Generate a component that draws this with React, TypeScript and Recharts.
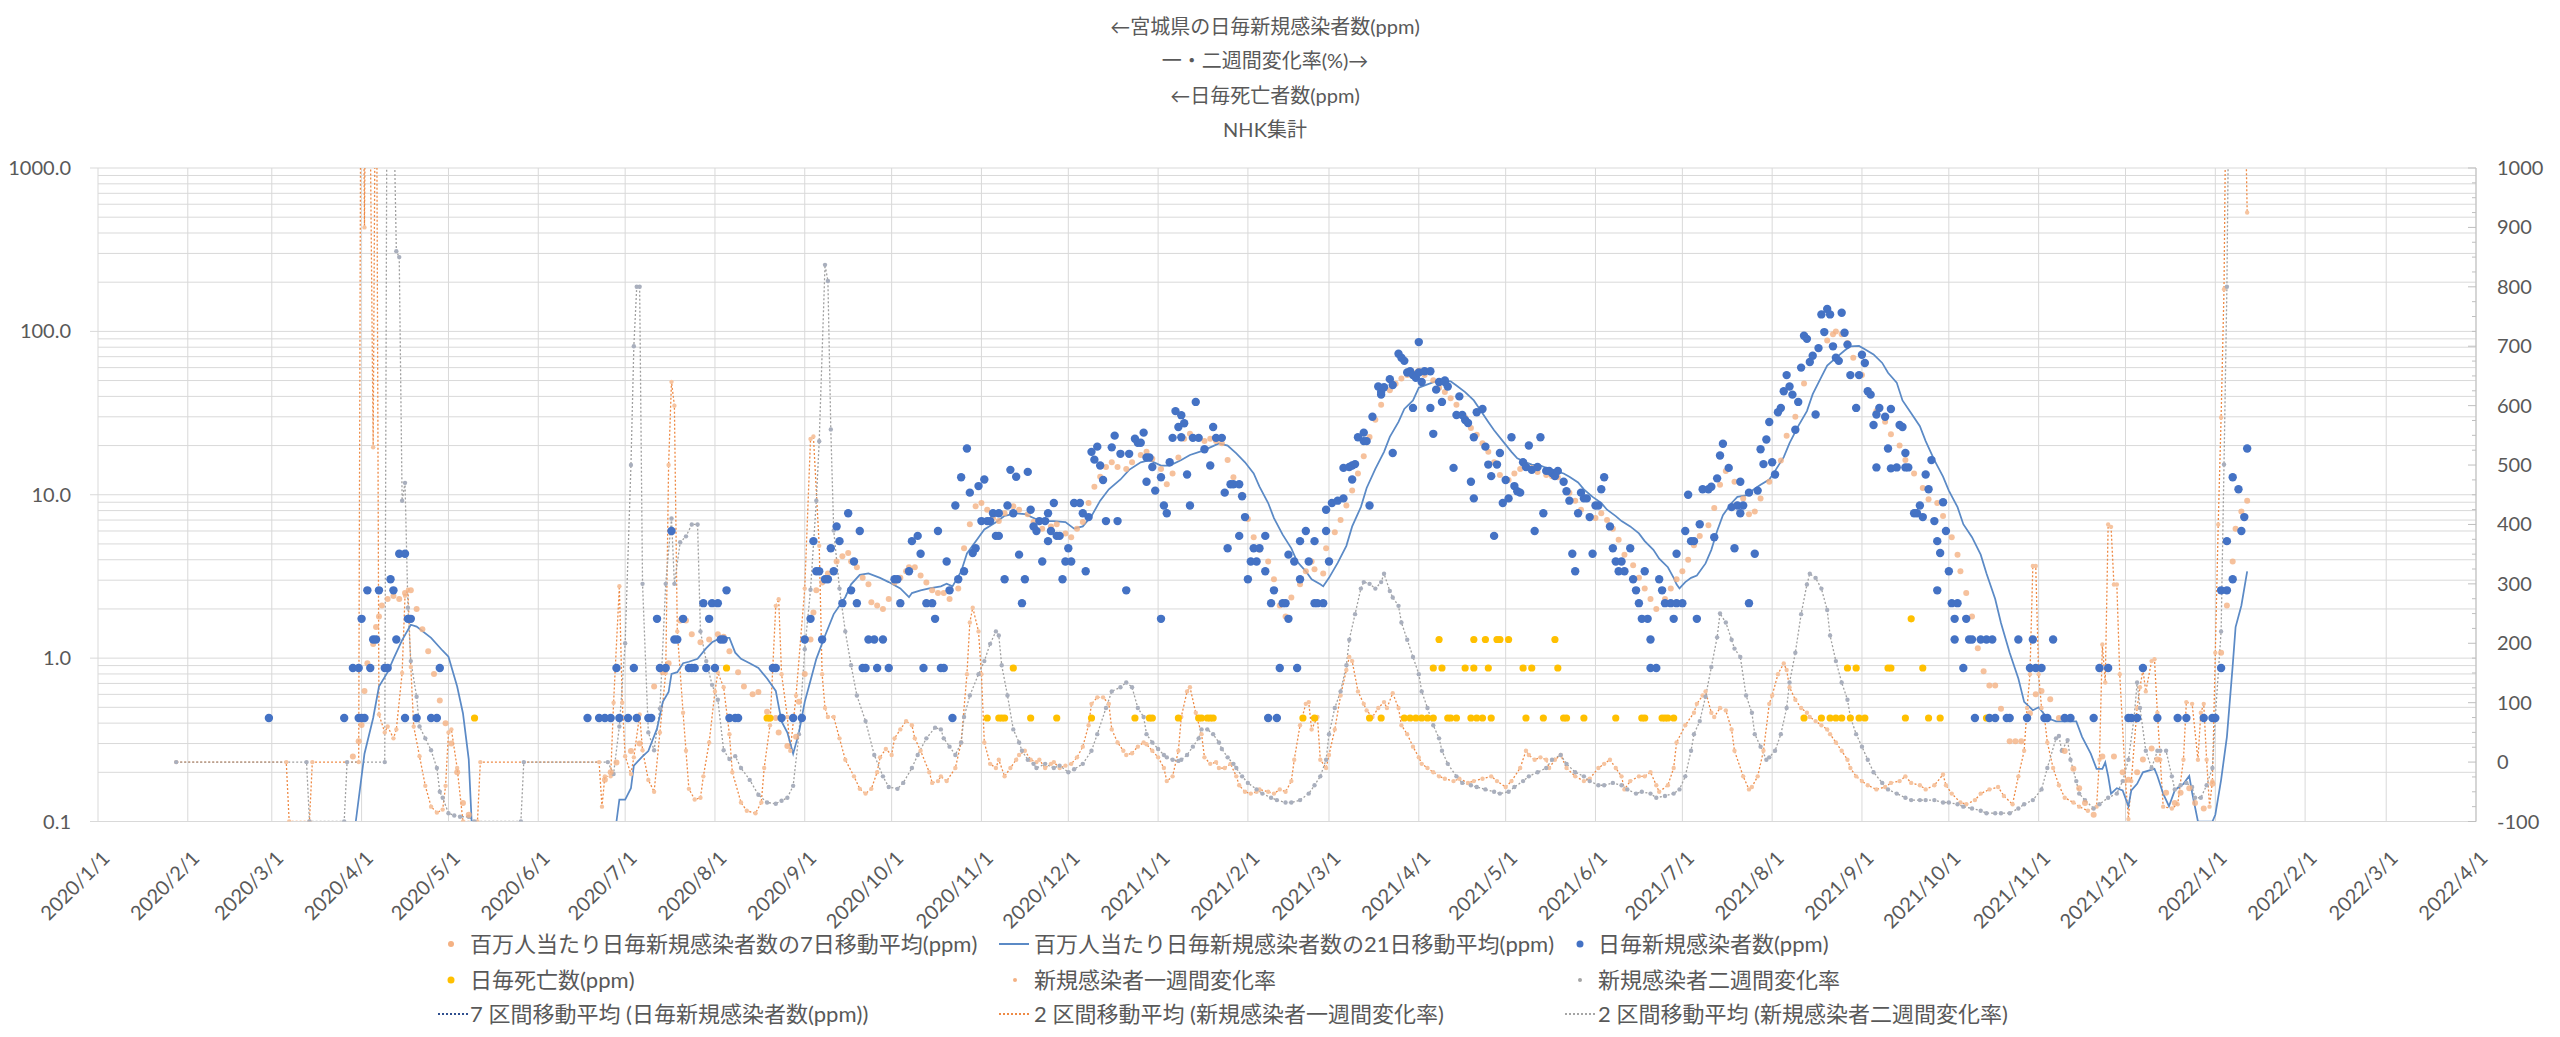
import React from 'react';
import { ComposedChart, Line, Scatter, XAxis, YAxis, CartesianGrid } from 'recharts';

const FONT = '"Lato", "Noto Sans CJK JP", sans-serif';
const TEXT = '#595959';

const titleLines = ['←宮城県の日毎新規感染者数(ppm)', '一・二週間変化率(%)→', '←日毎死亡者数(ppm)', 'NHK集計'];

const monthLabels = [
  '2020/1/1', '2020/2/1', '2020/3/1', '2020/4/1', '2020/5/1', '2020/6/1', '2020/7/1', '2020/8/1', '2020/9/1',
  '2020/10/1', '2020/11/1', '2020/12/1', '2021/1/1', '2021/2/1', '2021/3/1', '2021/4/1', '2021/5/1', '2021/6/1',
  '2021/7/1', '2021/8/1', '2021/9/1', '2021/10/1', '2021/11/1', '2021/12/1', '2022/1/1', '2022/2/1', '2022/3/1', '2022/4/1',
];
const leftMajor = [0.1, 1, 10, 100, 1000];

const seriesNames = [
  '百万人当たり日毎新規感染者数の7日移動平均(ppm)',
  '百万人当たり日毎新規感染者数の21日移動平均(ppm)',
  '日毎新規感染者数(ppm)',
  '日毎死亡数(ppm)',
  '新規感染者一週間変化率',
  '新規感染者二週間変化率',
  '7 区間移動平均 (日毎新規感染者数(ppm))',
  '2 区間移動平均 (新規感染者一週間変化率)',
  '2 区間移動平均 (新規感染者二週間変化率)',
];

// [days since 2020/1/1, value]
const dailyCases: [number, number][] = [
  [59,.43],[85,.43],[88,.87],[90,.87],[90,.43],[91,.43],[91,1.74],[92,.43],[93,2.6],[94,.87],[95,1.3],[96,1.3],[97,2.6],[99,.87],[100,.87],[101,3.04],[102,2.6],[103,1.3],[104,4.35],[106,.43],[106,4.35],[107,1.74],[108,1.74],[110,.43],[115,.43],[117,.43],[118,.87],
  [169,.43],[173,.43],[175,.43],[177,.43],[179,.87],[180,.43],[183,.43],[185,.87],[186,.43],[190,.43],[191,.43],[193,1.74],[194,.87],[196,.87],[198,6],[199,1.3],[200,1.3],[202,1.74],[204,.87],[205,.87],[206,.87],[209,2.17],[210,.87],[211,1.74],[212,2.17],[213,.87],[214,2.17],[215,1.3],[216,1.3],[217,2.6],[218,.43],[220,.43],[221,.43],[233,.87],[234,.87],[236,.43],[240,.43],[243,.43],[244,1.3],[246,1.74],[247,5.2],[248,3.4],[249,3.4],[250,1.3],[251,3.04],[252,3.04],[253,4.7],[254,3.4],[255,6.4],[256,5.2],[257,2.17],[259,7.7],[260,2.6],[261,3.9],[262,2.17],[263,6],[264,.87],[265,.87],[266,1.3],[268,1.3],[269,.87],[271,1.3],[273,.87],[275,3.04],[276,3.04],[277,2.17],[280,3.4],[281,5.2],[283,5.6],[284,4.35],[285,.87],[286,2.17],[288,2.17],[289,1.74],[290,6],[291,.87],[292,.87],[293,3.9],[294,2.6],[295,.43],[296,8.6],[297,3.04],[298,12.8],[299,3.4],[300,19.2],
  [301,10.3],[302,4.4],[303,4.7],[304,11.3],[305,6.9],[306,12.4],[307,6.9],[308,6.9],[309,7.7],[310,5.6],[311,7.7],[311,5.6],[313,3.04],[314,8.6],[315,14.2],[316,7.7],[317,12.9],[318,4.3],[319,2.17],[320,3.04],[321,13.8],[322,8.1],[323,6.4],[324,6],[325,6.9],[326,3.9],[327,6.9],[328,5.2],[328,7.7],[329,6],[330,8.9],[331,5.6],[332,5.6],[333,3.04],[334,3.9],[335,4.7],[336,3.9],[337,8.9],[339,8.9],[340,7.7],[341,3.4],[342,7.3],[343,18.3],[344,16.4],[345,19.7],[346,15.1],[347,12.3],[348,6.9],[350,19.5],[351,23],[352,6.9],[353,17.8],[355,2.6],[356,17.8],[358,22],[359,20.8],[360,20.8],[361,24],[362,16.9],[362,12],[363,16.9],[364,14.8],[365,10.6],[367,12.8],[367,1.74],[368,8.6],[369,7.7],[370,15.8],[371,22.3],[372,32.5],[373,26],[374,30.7],[374,22.5],[375,27.4],[376,13.3],[377,8.6],[378,22.3],[379,37],[380,22.3],[382,19],[384,15.1],[385,26],[386,22.3],[388,22.3],[389,10.3],[390,4.7],[391,11.6],[392,11.6],[394,11.6],[394,5.6],[395,9.8],[396,7.3],[397,3.04],[398,3.9],[399,4.7],[400,3.9],
  [401,4.7],[403,5.6],[403,3.4],[404,.43],[405,2.17],[406,2.6],[407,.43],[408,.87],[409,2.17],[410,2.17],[411,4.3],[411,1.74],[413,3.9],[414,.87],[415,3.04],[415,5.2],[417,6],[418,3.9],[420,5.2],[420,2.17],[421,2.17],[423,2.17],[424,8.1],[424,6],[425,3.9],[426,8.9],[428,9.2],[430,9.5],[430,14.6],[432,14.8],[433,12.4],[433,15.1],[434,15.4],[435,22.5],[437,21.3],[437,24],[438,21.3],[439,8.6],[440,30],[442,46],[443,41],[443,42.5],[444,45.5],[446,51],[447,18],[447,47],[449,73],[450,69],[451,66],[452,56],[453,57],[454,54],[454,34],[455,52],[456,86],[456,56],[457,49],[458,57],[460,57],[460,34],[461,23.6],[462,44],[463,49],[464,37],[465,50],[465,49],[466,46],[468,14.6],[469,30.8],[470,40],[471,30.8],[472,28.7],[473,27.5],[474,12],[475,9.5],[475,22.5],[476,32],[478,33.5],[479,19.7],[480,15.3],[481,13],[482,5.6],[483,15.3],[484,18],[485,8.9],[486,12.3],[487,9.5],[488,22.5],[489,11.3],[490,10.5],[491,10.3],[492,15.8],[493,14.8],[494,20],[495,14.2],[496,6],[497,14.8],[498,22.5],[499,7.7],[500,14],
  [501,14],[502,13.6],[503,13],[504,14],[506,12],[507,10.5],[508,9.2],[509,4.35],[510,3.4],[511,7.7],[512,10.3],[513,9.5],[514,9.5],[515,7.3],[516,4.35],[517,8.6],[518,8.6],[519,10.8],[520,12.8],[522,6.4],[523,4.7],[524,3.9],[525,3.4],[526,3.9],[527,3.4],[529,4.7],[530,3.04],[531,2.6],[532,2.17],[533,1.74],[534,3.4],[535,1.74],[536,1.3],[536,.87],[538,.87],[539,3.04],[540,2.6],[541,2.17],[543,2.17],[544,1.74],[545,4.35],[545,2.17],[547,2.17],[548,6],[549,10],[550,5.2],[551,5.2],[552,1.74],[553,6.6],[554,10.8],[556,10.8],[557,11.2],[558,5.5],[559,12.6],[560,17.4],[561,20.5],[563,14.6],[564,8.4],[565,4.7],[566,8.6],[567,7.7],[567,12],[568,8.6],[570,2.17],[570,10.3],[572,4.35],[573,10.6],[574,19],[575,15.4],[576,21.8],[577,27.9],[578,15.8],[579,13.3],[580,32],[581,34],[582,43],[583,54],[584,46],[585,41],[586,25],[587,37],[588,60],[589,94],[590,90],[591,65],[592,71],[593,31],[594,79],[595,127],[596,99],[597,137],[598,127],[599,81],[600,69],
  [601,66],[602,130],[603,98],[604,83],[605,54],[607,34],[608,54],[609,72],[610,64],[611,43],[612,41],[613,26.7],[614,14.7],[614,31],[615,34],[617,30],[618,19.2],[619,33.5],[619,14.5],[621,14.7],[622,26.7],[623,26],[624,18],[624,14.7],[625,14.7],[627,7.7],[628,7.7],[629,8.6],[630,7.3],[631,13.3],[632,10.8],[633,16.3],[634,6.9],[635,5.2],[635,2.6],[636,4.4],[637,9],[638,6],[639,3.4],[640,2.17],[641,1.74],[641,1.3],[642,2.17],[644,.87],[645,1.74],[646,1.3],[647,1.3],[648,.43],[650,1.3],[652,1.3],[653,.43],[654,1.3],[655,.43],[659,.43],[660,.43],[663,1.3],[666,.43],[667,.87],[668,1.3],[669,.87],[671,.87],[672,.43],[673,.43],[675,1.3],[679,.43],[681,.43],[689,.43],[691,.87],[694,.87],[701,.43],[702,.43],[704,.43],[706,.87],[711,.43],[718,.43],[721,.43],[727,.43],[730,.43],[731,.43],[733,.87],[733,2.6],[735,2.6],[735,5.2],[737,3.04],[737,12.8],[739,10.8],[740,6],[741,7.3],[742,19.2],
];

const dailyDeaths: [number, number][] = [
  [130,.43],[217,.87],[231,.43],[232,.43],[307,.43],[311,.43],[312,.43],[313,.43],[316,.87],[322,.43],[331,.43],[343,.43],[358,.43],[363,.43],[364,.43],[373,.43],[380,.43],[381,.43],[383,.43],[384,.43],[385,.43],[404,.43],[416,.43],[420,.43],[439,.43],[443,.43],[451,.43],[453,.43],[455,.43],[457,.43],[459,.43],[461,.43],[461,.87],[463,1.3],[464,.87],[466,.43],[467,.43],[469,.43],[472,.87],[474,.43],[475,1.3],[475,.87],[476,.43],[478,.43],[479,1.3],[480,.87],[481,.43],[483,1.3],[484,1.3],[487,1.3],[492,.87],[493,.43],[495,.87],[499,.43],[503,1.3],[504,.87],[506,.43],[507,.43],[513,.43],[524,.43],[533,.43],[534,.43],[540,.43],[541,.43],[542,.43],[544,.43],
  [589,.43],[595,.43],[598,.43],[600,.43],[602,.43],[604,.87],[605,.43],[607,.87],[608,.43],[610,.43],[618,.87],[619,.87],[624,.43],[626,1.74],[630,.87],[632,.43],[636,.43],[652,.43],
];

const avg7: [number, number][] = [
  [88,.25],[90,.31],[91,.39],[92,.63],[93,.93],[95,1.22],[96,1.55],[97,1.8],[98,2.1],[100,2.3],[102,2.4],[104,2.3],[106,2.5],[108,2.6],[110,2],[112,1.5],[114,1.1],[116,.8],[118,.55],[120,.4],[122,.3],[124,.2],[126,.13],[128,.11],
  [175,.18],[177,.2],[179,.23],[184,.27],[187,.3],[190,.43],[192,.67],[195,.82],[197,.93],[199,1.3],[201,1.7],[203,1.7],[205,1.4],[208,1.25],[211,1.3],[214,1.4],[216,1.35],[218,1.1],[221,.82],[223,.67],[226,.6],[228,.62],[231,.47],[234,.43],[235,.35],[238,.29],[241,.33],[242,.54],[244,.8],[246,1.3],[247,1.9],[248,2.6],[250,2.9],[252,3.3],[254,3.4],[255,3.9],[257,4.2],[259,4.4],[260,3.9],[262,3.6],[264,3.1],[266,2.83],[267,2.2],[269,2.1],[271,2],[273,2.3],[275,2.9],[277,3.1],[279,3.4],[280,3.6],[282,3.6],[284,3.2],[286,2.9],[288,2.6],[290,2.5],[292,2.5],[294,2.3],[297,2.67],[299,4.7],
  [301,6.6],[303,8.5],[305,8.9],[307,8.1],[309,7.2],[311,6.9],[313,7.7],[316,8.5],[318,8.1],[321,7.6],[323,6.8],[326,6.2],[329,6.4],[331,6.6],[334,5.8],[336,5.5],[338,6.2],[340,6.8],[342,8.9],[344,11.2],[346,12.9],[348,14.8],[350,15.8],[352,14.8],[355,14.4],[357,15.8],[360,17.5],[362,18.3],[364,16.6],[367,14.4],[369,11.6],[371,13.5],[373,16.9],[375,22],[377,23.6],[380,22.6],[382,21.3],[384,22],[386,21.3],[388,20.7],[390,16.3],[392,12.8],[395,10],[397,7.1],[399,5.5],
  [401,4.6],[404,3.9],[406,3.04],[408,2.1],[410,1.8],[412,2.35],[415,2.83],[417,3.4],[419,3.9],[420,3.5],[423,3.3],[424,4.7],[427,5.9],[429,7],[431,8.6],[433,10.6],[435,13.5],[437,17.2],[439,22.6],[441,28.8],[443,35.5],[446,43.6],[448,47.8],[450,51.5],[452,54],[454,55.6],[456,57.5],[458,54],[461,50.3],[463,45.2],[465,42.5],[467,38.9],[469,35.5],[472,29.7],[474,25.6],[476,23.3],[478,20.7],[480,18.3],[482,15.8],[484,13.2],[487,12.3],[489,13.5],[491,14.4],[493,15.1],[495,14.6],[497,13.8],[500,13.2],
  [502,13],[504,12.8],[506,11.9],[508,10.3],[510,9.2],[512,8.1],[515,7.4],[517,7.2],[519,7.7],[521,7],[523,6.2],[525,5.3],[527,4.3],[530,3.7],[532,3.1],[534,2.67],[536,2.3],[538,2],[541,2.3],[543,2.67],[545,3.04],[547,3.4],[549,4],[551,4.9],[553,5.6],[556,6.5],[558,8.3],[560,11.5],[562,14],[565,12],[568,9.5],[570,7.6],[572,7.9],[574,9.5],[577,12],[581,16.2],[583,23],[586,30],[589,48],[591,65],[594,78],[597,88],[599,96],[600,100],
  [602,96],[604,85],[606,69],[609,54],[611,43],[614,32.5],[617,28],[619,23.5],[622,20],[624,16.3],[627,13.5],[630,11],[632,9.4],[635,8.9],[637,7.4],[640,5.5],[642,4.3],[643,3.4],[645,2.5],[647,1.8],[649,1.15],[651,.83],[653,.68],[655,.68],[657,.49],[660,.31],[662,.31],[664,.31],[667,.46],[669,.6],[671,.63],[674,.56],[677,.43],[679,.27],[682,.21],[684,.16],[686,.13],[689,.11],[692,.25],[696,.25],[699,.2],[701,.18],[704,.2],[706,.24],[709,.28],[711,.24],[714,.15],[717,.13],[719,.15],[722,.16],[724,.13],[727,.12],[730,.17],[731,.43],[733,1.08],[735,2.1],[737,3.9],[738,6.2],[740,7.9],[742,9.2],
];

const avg21: [number, number | null][] = [
  [89,.1],[92,.26],[95,.43],[97,.67],[100,.82],[102,.99],[105,1.29],[108,1.6],[110,1.56],[115,1.33],[119,1.11],[121,1.02],[124,.67],[126,.46],[128,.24],[129,.1],[150,null],
  [179,.1],[180,.136],[182,.136],[184,.16],[185,.22],[188,.25],[190,.27],[191,.3],[193,.37],[195,.54],[197,.62],[198,.8],[200,.82],[202,.93],[204,.95],[207,.99],[210,1.15],[212,1.25],[215,1.33],[218,1.33],[220,1.08],[222,.99],[225,.93],[228,.87],[231,.75],[234,.63],[236,.41],[238,.35],[240,.26],[242,.35],[244,.54],[246,.73],[248,.99],[251,1.37],[254,1.86],[258,2.36],[260,2.83],[263,3.23],[266,3.3],[270,3.1],[273,2.92],[277,2.67],[280,2.36],[281,2.5],[284,2.6],[287,2.67],[291,2.75],[293,2.85],[295,2.75],[298,3.39],
  [300,4.37],[303,5.17],[306,6.13],[310,6.78],[313,7.43],[317,7.7],[320,7.6],[324,7.08],[327,6.9],[330,6.9],[334,6.8],[337,6.2],[340,6.4],[343,7.4],[346,9.2],[349,10.8],[353,12.4],[356,14.2],[360,15.8],[363,16.3],[367,15.1],[370,15.1],[374,16.3],[377,17.5],[381,18.5],[384,19.5],[387,20.6],[390,20],[393,17.9],[396,15.8],[399,13.5],
  [401,11.2],[404,8.9],[406,7.2],[409,5.7],[412,4.7],[414,3.9],[417,3.4],[419,3.04],[422,2.83],[423,2.75],[425,3.1],[428,3.83],[431,4.87],[433,6.4],[436,8.4],[438,11],[441,14.4],[444,18.3],[446,22.6],[449,27.9],[451,33.5],[454,37.8],[456,45.2],[459,47.4],[462,49.5],[464,50.3],[467,49.5],[469,46.6],[472,42.5],[475,37.8],[477,33.5],[480,27.9],[482,24.8],[485,21.3],[488,18.3],[490,16.7],[493,15.8],[495,15.3],[498,15.1],
  [500,14.6],[503,14],[506,13.5],[508,12.9],[511,11.9],[513,10.8],[516,9.7],[519,8.9],[521,8.1],[524,7.4],[526,6.9],[529,6.4],[532,5.8],[534,5.2],[537,4.6],[539,4.06],[542,3.6],[544,3.1],[545,2.83],[546,2.67],[548,2.92],[550,3.1],[552,3.2],[555,3.8],[557,4.6],[559,6],[561,7.5],[564,8.9],[566,9.7],[569,9.9],[571,10.6],[574,11.5],[577,12.4],[579,14],[582,17],[584,20.7],[587,26.3],[590,32.5],[592,41.3],[595,52.6],[597,61.8],
  [600,68.9],[603,76.4],[605,81],[608,81.5],[610,77.8],[613,72.3],[616,64.1],[618,55.8],[621,48.6],[623,37.8],[626,31.5],[629,26.3],[631,21.3],[634,16.3],[637,12.9],[639,10.6],[642,8.4],[644,6.6],[647,5.5],[650,4.3],[652,3.3],[655,2.3],[657,1.64],[660,1.08],[663,.75],[665,.54],[668,.48],[670,.5],[673,.43],[676,.41],[680,.41],[683,.41],[685,.33],[688,.26],[690,.21],[692,.21],[693,.23],[694,.19],[695,.148],[697,.16],[699,.155],
  [701,.124],[702,.155],[704,.17],[706,.2],[710,.21],[711,.19],[713,.148],[715,.124],[717,.155],[720,.17],[722,.19],[723,.15],[725,.1],[730,.1],[731,.11],[733,.18],[735,.33],[737,.9],[738,1.55],[740,2.1],[742,3.4],
];

// 一週間変化率 (%)
const weekChange: [number, number][] = [
  [27,0],[65,0],[66,-100],[73,-100],[74,0],[90,0],[91,1600],[92,900],[93,1600],[95,530],[96,1400],[97,80],[99,50],[100,60],[102,40],[103,55],[105,150],[106,280],[107,290],[108,160],[109,60],[111,10],[113,-40],[115,-75],[117,-85],[119,-80],[120,-40],[121,50],[122,55],[124,-10],[126,-100],[131,-100],[132,0],
  [173,0],[174,-75],[175,-24],[177,-24],[178,100],[180,296],[181,100],[182,10],[184,-20],[185,8],[187,80],[188,20],[190,-30],[192,-50],[194,50],[196,150],[197,500],[198,640],[199,600],[200,220],[202,83],[203,19],[204,-45],[206,-63],[208,-60],[209,-24],[211,33],[213,119],[214,151],[216,126],[218,47],[219,-17],[222,-68],[224,-82],[227,-86],[229,-68],[230,-10],[232,62],[234,263],[235,274],[236,148],[238,76],[239,19],[241,112],[244,292],[246,544],[247,548],[249,364],[250,148],[251,91],[252,76],[254,76],[256,40],[258,4],[261,-24],[263,-45],[265,-53],[267,-45],[269,-17],[270,8],[272,22],[274,12],[275,40],[277,55],[279,69],[281,62],[282,40],[284,19],[287,-17],[288,-35],[290,-32],
  [291,-24],[293,-32],[296,-10],[298,33],[300,148],[301,235],[302,260],[304,220],[305,148],[306,33],[308,-3],[310,-10],[311,4],[313,-24],[315,-10],[317,4],[318,12],[320,19],[322,4],[324,0],[325,4],[327,-10],[329,-3],[330,0],[332,-10],[334,-6],[336,-3],[338,8],[340,26],[342,62],[343,98],[345,109],[347,109],[349,98],[350,55],[352,33],[354,19],[355,12],[357,15],[359,26],[361,33],[362,30],[364,19],[366,8],[368,-10],[369,-32],[371,-24],[373,19],[374,76],[376,119],[377,126],[379,83],[381,47],[382,8],[384,-3],[386,0],[387,-10],[389,-10],[391,-3],[393,-24],[394,-39],[396,-50],[398,-53],[400,-50],
  [401,-46],[404,-50],[406,-53],[408,-46],[410,-50],[412,-32],[413,4],[415,62],[417,98],[418,101],[419,55],[421,76],[422,4],[424,-10],[425,12],[427,55],[429,112],[431,155],[432,177],[433,170],[435,119],[437,98],[438,87],[440,76],[442,91],[444,101],[445,91],[447,116],[449,91],[450,62],[452,47],[454,26],[456,8],[457,-3],[459,-10],[461,-17],[463,-24],[465,-28],[468,-32],[470,-28],[473,-35],[475,-32],[478,-28],[481,-24],[483,-32],[486,-42],[488,-32],[491,-10],[493,19],[494,12],[496,4],[498,8],[500,4],
  [501,-10],[503,4],[505,12],[507,-10],[510,-24],[513,-32],[515,-28],[518,-10],[520,-3],[522,4],[524,-10],[526,-24],[527,-46],[529,-32],[532,-24],[534,-24],[536,-17],[538,-39],[539,-50],[542,-39],[544,-10],[545,33],[548,62],[551,83],[552,98],[554,112],[555,119],[557,83],[558,76],[560,91],[562,87],[564,55],[565,19],[568,-24],[570,-46],[571,-42],[573,-24],[575,19],[577,98],[578,112],[580,148],[582,166],[583,155],[584,126],[586,105],[588,91],[590,83],[591,76],[593,69],[595,62],[597,55],[598,47],[600,33],
  [602,19],[604,4],[605,-10],[607,-24],[609,-32],[611,-39],[614,-46],[617,-42],[619,-35],[622,-32],[624,-24],[626,-35],[629,-39],[631,-46],[634,-39],[637,-21],[638,-39],[640,-53],[643,-68],[645,-71],[648,-64],[650,-53],[653,-46],[656,-42],[658,-57],[661,-71],[663,-24],[665,19],[666,91],[667,148],[668,330],[669,330],[670,148],[671,91],[672,76],[673,33],[675,-10],[677,-39],[679,-60],[682,-68],[684,-75],[687,-82],[690,-75],[691,4],[692,198],[693,134],[694,400],[695,396],[696,299],[697,299],[698,148],[700,-32],
  [701,-96],[702,-32],[704,91],[705,126],[706,155],[707,119],[709,170],[710,173],[711,83],[712,4],[713,-75],[716,-78],[718,-71],[720,4],[721,101],[723,98],[725,4],[726,83],[727,98],[728,4],[729,-75],[730,-32],[731,184],[732,400],[733,580],[734,796],[735,1300],[738,1500],[741,1200],[742,925],
];

// 二週間変化率 (%)
const twoWeekChange: [number, number][] = [
  [27,0],[72,0],[73,-100],[85,-100],[86,0],[99,0],[100,1500],[101,1400],[103,860],[104,850],[105,440],[106,470],[107,260],[108,170],[110,110],[111,60],[113,40],[115,20],[117,-10],[118,-50],[119,-60],[121,-86],[123,-90],[125,-92],[128,-92],[130,-100],[146,-100],[147,0],
  [176,0],[178,-20],[180,60],[182,200],[184,500],[185,700],[186,800],[187,800],[188,300],[190,50],[192,20],[194,90],[196,300],[198,410],[199,300],[201,370],[203,380],[205,400],[207,400],[208,220],[210,170],[212,130],[214,105],[216,20],[218,5],[220,10],[222,-10],[225,-30],[228,-55],[231,-68],[234,-70],[236,-65],[238,-60],[240,-40],[242,47],[244,190],[246,290],[248,440],[249,540],[251,837],[252,810],[253,560],[254,390],[256,292],[258,220],[260,163],[262,112],[265,69],[268,12],[271,-24],[273,-42],[276,-45],[278,-35],[281,-10],[283,12],[286,40],[289,58],[291,55],[292,40],[294,26],[296,12],[298,33],[299,76],
  [301,112],[304,148],[306,170],[308,199],[310,220],[311,213],[312,163],[314,112],[316,55],[318,33],[319,19],[321,4],[323,-3],[324,-10],[327,-3],[330,-10],[332,-6],[335,-17],[337,-12],[340,-3],[343,19],[345,47],[348,91],[350,119],[353,126],[355,134],[357,126],[359,91],[361,76],[362,47],[364,33],[366,22],[368,12],[369,8],[371,4],[373,2],[374,4],[376,12],[378,26],[380,40],[381,55],[383,55],[385,47],[387,33],[388,22],[390,8],[392,-3],[393,-10],[395,-24],[397,-35],[400,-46],
  [402,-53],[405,-60],[407,-64],[410,-68],[412,-68],[415,-64],[418,-53],[420,-39],[422,-24],[424,4],[425,47],[427,91],[429,119],[431,163],[432,206],[434,249],[436,292],[437,303],[439,300],[441,292],[443,303],[444,317],[446,288],[447,277],[449,263],[450,235],[452,206],[454,177],[456,148],[457,119],[459,91],[461,62],[463,40],[464,19],[466,-3],[469,-24],[471,-35],[474,-39],[476,-42],[479,-46],[482,-50],[484,-53],[487,-50],[489,-42],[492,-32],[494,-24],[497,-17],[500,-10],
  [502,4],[505,12],[507,-3],[510,-17],[513,-24],[515,-32],[518,-39],[520,-39],[523,-35],[526,-39],[528,-46],[531,-53],[533,-50],[536,-53],[538,-60],[541,-57],[544,-53],[546,-46],[548,-24],[550,19],[551,47],[553,69],[555,110],[557,160],[559,210],[560,250],[562,235],[564,206],[565,191],[567,177],[569,112],[571,83],[572,47],[574,26],[576,4],[577,8],[579,19],[581,47],[583,91],[584,134],[586,184],[588,249],[590,299],[591,317],[593,310],[595,292],[597,256],[598,213],[600,170],
  [602,134],[604,105],[605,76],[607,47],[609,26],[611,4],[613,-17],[616,-35],[618,-46],[621,-53],[624,-60],[626,-64],[629,-64],[631,-64],[634,-64],[637,-68],[639,-68],[642,-71],[644,-75],[647,-78],[650,-82],[652,-86],[655,-86],[657,-86],[660,-86],[663,-78],[665,-71],[668,-64],[671,-46],[673,-10],[676,40],[677,44],[678,19],[680,37],[681,4],[683,-32],[684,-53],[686,-64],[689,-78],[691,-71],[694,-60],[697,-53],[699,-32],
  [701,4],[703,76],[704,134],[705,91],[707,19],[709,-10],[711,19],[712,19],[714,19],[716,-24],[717,-46],[719,-39],[721,-35],[723,-42],[724,-60],[726,-60],[728,-39],[730,-10],[731,76],[733,220],[734,501],[735,800],[736,1300],[740,1500],[742,1200],
];

const START = Date.UTC(2020, 0, 1);
const toDay = (s: string) => {
  const [y, m, d] = s.split('/').map(Number);
  return Math.round((Date.UTC(y, m - 1, d) - START) / 86400000);
};
const monthTicks = monthLabels.map(toDay);
const logTicks = [0.1, 1, 10, 100].flatMap((b) => [1, 2, 3, 4, 5, 6, 7, 8, 9].map((k) => +(b * k).toPrecision(3))).concat([1000]);
const rightTicks = Array.from({ length: 45 }, (_, i) => -100 + i * 25);

const rows = (a: [number, number | null][]) => a.map(([d, v]) => ({ d, v }));

const XTick = ({ x, y, payload }: any) => {
  const i = monthTicks.indexOf(payload.value);
  const tx = x + 13;
  const ty = y + 38;
  return (
    <text x={tx} y={ty} textAnchor="end" fontSize={20} fill={TEXT} fontFamily={FONT} transform={`rotate(-45 ${tx} ${ty})`}>
      {monthLabels[i]}
    </text>
  );
};

const LeftTick = ({ x, y, payload }: any) => {
  const i = leftMajor.findIndex((m) => Math.abs(m - payload.value) < 1e-9);
  if (i < 0) return <g />;
  return (
    <g>
      <line x1={x - 8} x2={x} y1={y} y2={y} stroke="#D9D9D9" />
      <text x={x - 27} y={y} dy="0.35em" textAnchor="end" fontSize={20} fill={TEXT} fontFamily={FONT}>
        {leftMajor[i].toFixed(1)}
      </text>
    </g>
  );
};

const RightTick = ({ x, y, payload }: any) => {
  const major = payload.value % 100 === 0;
  return (
    <g>
      <line x1={x - (major ? 8 : 4)} x2={x} y1={y} y2={y} stroke="#BFBFBF" />
      {major && (
        <text x={x + 21} y={y} dy="0.35em" textAnchor="start" fontSize={20} fill={TEXT} fontFamily={FONT}>
          {payload.value}
        </text>
      )}
    </g>
  );
};

const dot = (r: number, fill: string, opacity = 1) => (p: any) =>
  p.cx == null || p.cy == null ? <g /> : <circle cx={p.cx} cy={p.cy} r={r} fill={fill} fillOpacity={opacity} />;

const legendCols = [
  { marker: 443, lineFrom: 430, text: 462 },
  { marker: 1007, lineFrom: 991, text: 1026 },
  { marker: 1572, lineFrom: 1557, text: 1590 },
];
const legendRows = [936, 972, 1006];
const legendMarks = [
  { kind: 'dot', color: '#F4B183', r: 3 },
  { kind: 'line', color: '#5B8AC6' },
  { kind: 'dot', color: '#4472C4', r: 3.5 },
  { kind: 'dot', color: '#FFC000', r: 3.5 },
  { kind: 'dot', color: '#F4B183', r: 2 },
  { kind: 'dot', color: '#A5A5A5', r: 2 },
  { kind: 'dash', color: '#2F4F8F' },
  { kind: 'dash', color: '#EE8A45' },
  { kind: 'dash', color: '#A5A5A5' },
];

function Legend() {
  return (
    <>
      {seriesNames.map((name, i) => {
        const col = legendCols[i % 3];
        const cy = legendRows[Math.floor(i / 3)];
        const m = legendMarks[i];
        return (
          <div key={name}>
            <svg style={{ position: 'absolute', left: 0, top: cy - 10 }} width={col.text} height={20}>
              {m.kind === 'dot' && <circle cx={col.marker} cy={10} r={m.r} fill={m.color} />}
              {m.kind === 'line' && <line x1={col.lineFrom} x2={col.lineFrom + 30} y1={10} y2={10} stroke={m.color} strokeWidth={2} />}
              {m.kind === 'dash' && (
                <line x1={col.lineFrom} x2={col.lineFrom + 30} y1={10} y2={10} stroke={m.color} strokeWidth={2} strokeDasharray="2 2" />
              )}
            </svg>
            <div
              style={{
                position: 'absolute', left: col.text, top: cy - 16, height: 32, lineHeight: '32px',
                fontSize: 22, color: TEXT, whiteSpace: 'nowrap', fontFamily: FONT,
              }}
            >
              {name}
            </div>
          </div>
        );
      })}
    </>
  );
}

export default function App() {
  return (
    <div style={{ position: 'relative', width: 2544, height: 1021, background: '#fff', fontFamily: FONT }}>
      <div style={{ position: 'absolute', left: 757, top: 0, width: 1000, textAlign: 'center', color: TEXT, fontSize: 20 }}>
        {titleLines.map((t, i) => (
          <div key={t} style={{ position: 'absolute', left: 0, width: 1000, top: 18 + i * 34.4 - 15, height: 30, lineHeight: '30px' }}>
            {t}
          </div>
        ))}
      </div>
      <ComposedChart width={2544} height={1021} margin={{ top: 160, right: 0, bottom: 87.5, left: 0 }}>
        <CartesianGrid xAxisId="x" yAxisId="left" stroke="#D9D9D9" />
        <XAxis
          xAxisId="x" dataKey="d" type="number" domain={[0, 821]} ticks={monthTicks} interval={0} allowDataOverflow
          tick={<XTick />} tickLine={false} tickSize={0} tickMargin={0} height={120} axisLine={{ stroke: '#D9D9D9' }}
        />
        <YAxis
          yAxisId="left" dataKey="v" type="number" scale="log" domain={[0.1, 1000]} ticks={logTicks} interval={0} allowDataOverflow
          width={90} tick={<LeftTick />} tickLine={false} tickSize={0} tickMargin={0} axisLine={false}
        />
        <YAxis
          yAxisId="right" orientation="right" dataKey="v" type="number" domain={[-100, 1000]} ticks={rightTicks} interval={0} allowDataOverflow
          width={76} tick={<RightTick />} tickLine={false} tickSize={0} tickMargin={0} axisLine={{ stroke: '#BFBFBF' }}
        />
        <Line
          xAxisId="x" yAxisId="right" data={rows(weekChange)} dataKey="v" name={seriesNames[4]} stroke="#EE8A45" strokeWidth={1.3}
          strokeDasharray="2 2" dot={{ r: 2.2, fill: '#F6C4A0', stroke: 'none' }} isAnimationActive={false}
        />
        <Line
          xAxisId="x" yAxisId="right" data={rows(twoWeekChange)} dataKey="v" name={seriesNames[5]} stroke="#A0A0A0" strokeWidth={1.3}
          strokeDasharray="2 2" dot={{ r: 2.2, fill: '#A9AFBD', stroke: 'none' }} isAnimationActive={false}
        />
        <Scatter xAxisId="x" yAxisId="left" data={rows(avg7)} name={seriesNames[0]} shape={dot(3, '#F4B183', 0.8)} isAnimationActive={false} />
        <Line
          xAxisId="x" yAxisId="left" data={rows(avg21)} dataKey="v" name={seriesNames[1]} stroke="#5B8AC6" strokeWidth={1.75}
          dot={false} connectNulls={false} isAnimationActive={false}
        />
        <Scatter xAxisId="x" yAxisId="left" data={rows(dailyDeaths)} name={seriesNames[3]} shape={dot(3.6, '#FFC000')} isAnimationActive={false} />
        <Scatter xAxisId="x" yAxisId="left" data={rows(dailyCases)} name={seriesNames[2]} shape={dot(4.2, '#4472C4')} isAnimationActive={false} />
      </ComposedChart>
      <Legend />
    </div>
  );
}
